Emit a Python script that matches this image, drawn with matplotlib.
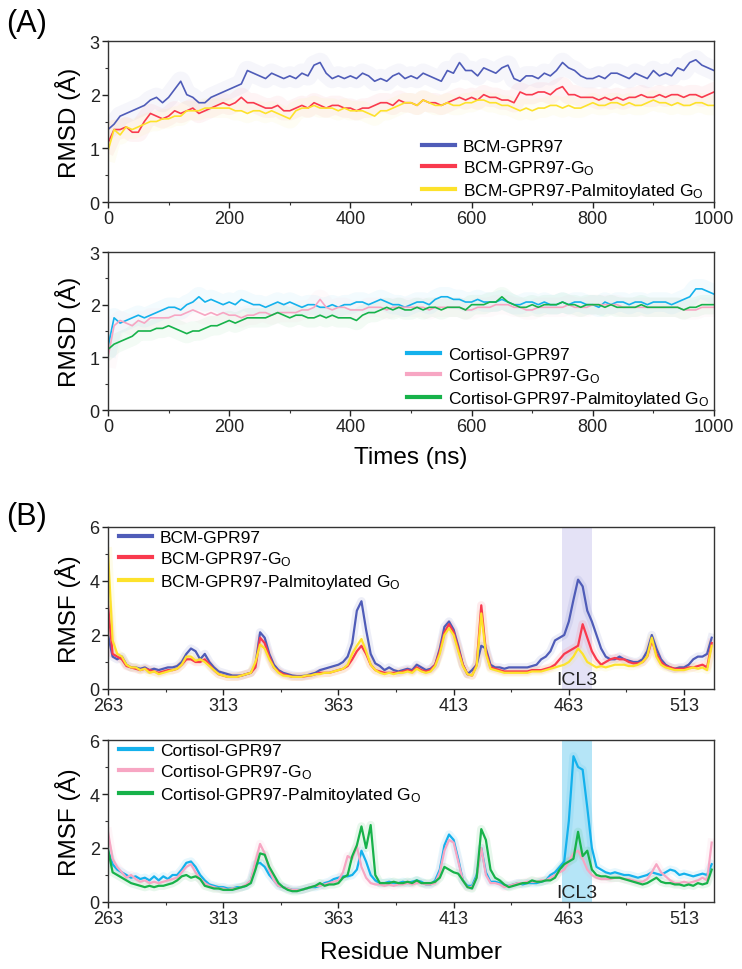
import numpy as np
import matplotlib
matplotlib.use("Agg")
import matplotlib.pyplot as plt
from matplotlib.ticker import MultipleLocator, FixedLocator

plt.rcParams['font.family'] = ['Liberation Sans', 'DejaVu Sans']
plt.rcParams['mathtext.default'] = 'regular'

# ---------------- data ----------------
time_ns = np.arange(0, 1001, 10)

bcm = [1.35, 1.45, 1.6, 1.65, 1.7, 1.75, 1.8, 1.9, 1.95, 1.85,
       1.95, 2.1, 2.25, 2.0, 1.95, 1.85, 1.85, 1.95, 2.0, 2.05,
       2.1, 2.15, 2.2, 2.45, 2.4, 2.35, 2.3, 2.4, 2.35, 2.3,
       2.35, 2.3, 2.4, 2.35, 2.55, 2.6, 2.4, 2.3, 2.35, 2.3,
       2.35, 2.3, 2.4, 2.35, 2.25, 2.3, 2.25, 2.35, 2.4, 2.3,
       2.35, 2.3, 2.4, 2.35, 2.3, 2.25, 2.45, 2.4, 2.6, 2.45,
       2.45, 2.35, 2.5, 2.45, 2.4, 2.5, 2.55, 2.3, 2.25, 2.35,
       2.35, 2.3, 2.4, 2.35, 2.45, 2.6, 2.5, 2.45, 2.35, 2.3,
       2.3, 2.35, 2.3, 2.4, 2.4, 2.35, 2.3, 2.4, 2.35, 2.3,
       2.45, 2.35, 2.4, 2.35, 2.5, 2.45, 2.6, 2.65, 2.55, 2.5,
       2.45]
bcm_go = [1.1, 1.35, 1.35, 1.4, 1.3, 1.3, 1.5, 1.65, 1.6, 1.55,
          1.6, 1.7, 1.65, 1.7, 1.75, 1.65, 1.7, 1.75, 1.8, 1.85,
          1.8, 1.85, 1.95, 1.85, 1.85, 1.8, 1.75, 1.75, 1.8, 1.7,
          1.7, 1.75, 1.8, 1.75, 1.85, 1.8, 1.75, 1.8, 1.8, 1.75,
          1.75, 1.7, 1.75, 1.75, 1.8, 1.85, 1.85, 1.8, 1.9, 1.85,
          1.85, 1.8, 1.9, 1.85, 1.85, 1.8, 1.85, 1.9, 1.95, 1.9,
          1.95, 1.9, 2.0, 1.95, 1.95, 1.9, 1.9, 1.85, 2.05, 2.0,
          2.0, 2.05, 2.05, 2.0, 2.1, 2.15, 2.0, 2.0, 1.95, 1.95,
          1.95, 1.9, 1.95, 1.9, 1.95, 1.9, 1.95, 1.95, 2.0, 1.95,
          1.95, 2.0, 1.95, 2.0, 2.0, 1.95, 2.0, 2.0, 1.95, 2.0,
          2.05]
bcm_palm = [0.95, 1.35, 1.25, 1.4, 1.35, 1.4, 1.45, 1.5, 1.5, 1.55,
            1.55, 1.6, 1.6, 1.7, 1.7, 1.7, 1.75, 1.75, 1.75, 1.75,
            1.75, 1.7, 1.7, 1.65, 1.7, 1.7, 1.65, 1.7, 1.65, 1.6,
            1.55, 1.7, 1.75, 1.75, 1.8, 1.75, 1.75, 1.75, 1.7, 1.75,
            1.7, 1.7, 1.7, 1.65, 1.6, 1.7, 1.7, 1.75, 1.8, 1.85,
            1.85, 1.8, 1.9, 1.85, 1.8, 1.8, 1.85, 1.8, 1.8, 1.85,
            1.85, 1.9, 1.9, 1.85, 1.85, 1.8, 1.8, 1.75, 1.7, 1.75,
            1.7, 1.75, 1.75, 1.8, 1.8, 1.75, 1.8, 1.75, 1.75, 1.8,
            1.85, 1.8, 1.8, 1.85, 1.85, 1.8, 1.85, 1.8, 1.8, 1.85,
            1.9, 1.85, 1.85, 1.8, 1.85, 1.8, 1.8, 1.85, 1.85, 1.8,
            1.8]

cort = [1.2, 1.75, 1.65, 1.7, 1.75, 1.8, 1.75, 1.8, 1.85, 1.9,
        1.95, 1.95, 1.9, 2.0, 2.05, 2.15, 2.05, 2.1, 2.05, 2.0,
        2.05, 2.0, 2.1, 2.05, 2.0, 2.0, 1.95, 2.0, 2.05, 2.0,
        2.05, 2.0, 1.95, 2.0, 2.0, 1.95, 1.95, 2.0, 1.95, 2.0,
        2.0, 2.05, 2.05, 2.0, 2.05, 2.1, 2.05, 2.0, 2.0, 1.95,
        2.0, 2.05, 2.05, 2.0, 2.1, 2.15, 2.15, 2.1, 2.1, 2.05,
        2.05, 2.1, 2.05, 2.05, 2.05, 2.1, 2.05, 2.0, 2.0, 2.05,
        2.05, 2.0, 2.05, 2.0, 2.0, 2.05, 2.0, 2.05, 2.05, 2.0,
        2.0, 1.95, 2.05, 2.0, 2.05, 2.05, 2.0, 2.05, 2.05, 2.0,
        2.05, 2.05, 2.05, 2.0, 2.05, 2.1, 2.15, 2.3, 2.3, 2.25,
        2.2]
cort_go = [1.0, 1.6, 1.7, 1.65, 1.6, 1.7, 1.65, 1.75, 1.75, 1.75,
           1.75, 1.8, 1.8, 1.85, 1.9, 1.85, 1.8, 1.85, 1.8, 1.85,
           1.8, 1.8, 1.75, 1.8, 1.8, 1.85, 1.85, 1.8, 1.85, 1.85,
           1.85, 1.85, 1.9, 1.9, 1.95, 2.1, 1.95, 1.9, 1.95, 1.95,
           1.9, 1.9, 1.9, 1.95, 1.95, 1.95, 1.9, 1.95, 1.95, 1.95,
           1.95, 1.95, 1.95, 1.9, 1.95, 1.95, 1.95, 1.95, 1.95, 1.9,
           1.9, 1.95, 1.95, 1.95, 2.0, 2.0, 2.0, 1.95, 1.95, 1.9,
           1.9, 1.95, 1.95, 1.95, 1.95, 1.95, 2.0, 1.95, 1.95, 1.95,
           2.0, 2.0, 2.0, 2.0, 2.0, 1.95, 1.95, 1.95, 1.95, 1.95,
           1.95, 1.95, 1.95, 1.95, 1.95, 1.9, 1.9, 1.9, 1.95, 1.95,
           1.95]
cort_palm = [1.15, 1.25, 1.3, 1.35, 1.4, 1.5, 1.5, 1.5, 1.55, 1.55,
             1.6, 1.55, 1.5, 1.45, 1.5, 1.5, 1.55, 1.6, 1.6, 1.65,
             1.7, 1.65, 1.7, 1.75, 1.75, 1.75, 1.75, 1.8, 1.85, 1.8,
             1.75, 1.8, 1.8, 1.75, 1.75, 1.8, 1.75, 1.8, 1.75, 1.75,
             1.75, 1.7, 1.8, 1.85, 1.85, 1.9, 1.95, 1.9, 1.95, 1.9,
             1.9, 1.95, 1.9, 1.95, 1.95, 1.9, 1.95, 1.95, 1.95, 1.9,
             2.0, 2.0, 2.0, 2.05, 2.05, 2.15, 2.05, 2.0, 1.95, 1.95,
             2.0, 1.95, 2.0, 2.0, 2.0, 2.05, 2.0, 2.0, 1.95, 2.0,
             2.0, 2.0, 1.95, 2.0, 1.95, 1.95, 1.95, 1.95, 2.0, 1.95,
             1.95, 1.95, 1.95, 1.95, 1.95, 1.9, 1.95, 1.95, 2.0, 2.0,
             2.0]

residue = np.arange(263, 526, 2)

rmsf_bcm = [2.0, 1.2, 1.1, 1.2, 0.9, 0.8, 0.8, 0.75, 0.8, 0.7,
            0.75, 0.7, 0.75, 0.8, 0.8, 0.85, 1.0, 1.3, 1.5, 1.4,
            1.1, 1.3, 1.0, 0.8, 0.65, 0.6, 0.55, 0.5, 0.5, 0.5,
            0.55, 0.6, 0.9, 2.1, 1.9, 1.3, 0.9, 0.7, 0.6, 0.55,
            0.5, 0.48, 0.48, 0.5, 0.55, 0.6, 0.7, 0.75, 0.8, 0.85,
            0.9, 1.0, 1.2, 1.7, 2.9, 3.25, 2.2, 1.3, 0.95, 0.85,
            0.7, 0.8, 0.7, 0.65, 0.7, 0.75, 0.7, 0.9, 0.8, 0.7,
            0.75, 0.9, 1.5, 2.3, 2.5, 2.2, 1.6, 0.9, 0.55, 0.7,
            0.9, 1.6, 1.5, 0.9, 0.8, 0.8, 0.75, 0.8, 0.8, 0.8,
            0.8, 0.8, 0.85, 0.9, 1.1, 1.2, 1.4, 1.8, 1.9, 2.0,
            2.5, 3.3, 4.05, 3.8, 2.9, 2.5, 2.0, 1.5, 1.2, 1.1,
            1.1, 1.2, 1.1, 1.05, 1.0, 1.0, 1.1, 1.4, 2.0, 1.5,
            1.1, 0.9, 0.8, 0.75, 0.8, 0.8, 0.9, 1.1, 1.2, 1.2,
            1.3, 1.9]
rmsf_bcm_go = [3.1, 1.3, 1.2, 1.1, 0.85, 0.8, 0.75, 0.7, 0.75, 0.7,
               0.65, 0.6, 0.65, 0.7, 0.7, 0.75, 0.9, 1.1, 1.1, 1.0,
               1.0, 1.1, 0.9, 0.7, 0.55, 0.5, 0.45, 0.45, 0.45, 0.5,
               0.55, 0.6, 0.8, 1.9, 1.7, 1.2, 0.8, 0.65, 0.55, 0.5,
               0.45, 0.45, 0.45, 0.48, 0.5, 0.55, 0.6, 0.6, 0.6, 0.65,
               0.7, 0.75, 0.85, 1.1, 1.4, 1.6, 1.3, 0.9, 0.7, 0.65,
               0.6, 0.6, 0.6, 0.6, 0.65, 0.7, 0.65, 0.8, 0.7, 0.65,
               0.7, 0.9, 1.4, 2.1, 2.4, 2.1, 1.5, 0.9, 0.55, 0.5,
               0.9, 3.1, 1.4, 0.8, 0.75, 0.7, 0.65, 0.65, 0.65, 0.65,
               0.65, 0.65, 0.7, 0.7, 0.7, 0.75, 0.8, 0.9, 1.1, 1.3,
               1.4, 1.5, 1.6, 2.4, 1.9, 1.4, 1.1, 0.9, 1.0, 1.1,
               1.15, 1.1, 1.1, 1.0, 0.95, 0.95, 1.0, 1.2, 1.8, 1.3,
               1.0, 0.85, 0.8, 0.75, 0.75, 0.75, 0.8, 0.8, 0.85, 0.9,
               0.8, 1.7]
rmsf_bcm_palm = [5.1, 1.8, 1.3, 1.2, 0.9, 0.8, 0.8, 0.7, 0.75, 0.6,
                 0.65, 0.55, 0.6, 0.65, 0.7, 0.75, 0.9, 1.2, 1.2, 1.05,
                 1.1, 1.0, 0.85, 0.7, 0.55, 0.5, 0.45, 0.45, 0.45, 0.5,
                 0.55, 0.6, 1.0, 1.65, 1.5, 1.1, 0.8, 0.6, 0.5, 0.48,
                 0.45, 0.45, 0.45, 0.5, 0.5, 0.55, 0.55, 0.6, 0.6, 0.65,
                 0.7, 0.75, 0.9, 1.3, 1.6, 1.85, 1.4, 0.9, 0.7, 0.6,
                 0.55, 0.6, 0.55, 0.6, 0.6, 0.65, 0.6, 0.75, 0.65, 0.6,
                 0.65, 0.85, 1.3, 2.0, 2.25, 2.0, 1.4, 0.85, 0.55, 0.5,
                 0.85, 2.8, 1.3, 0.75, 0.7, 0.65, 0.6, 0.6, 0.6, 0.6,
                 0.6, 0.6, 0.65, 0.65, 0.65, 0.7, 0.75, 0.8, 0.85, 0.9,
                 1.0, 1.2, 1.5, 1.3, 1.0, 0.9, 0.8, 0.85, 0.8, 0.85,
                 0.9, 0.9, 0.9, 0.85, 0.85, 0.9, 1.0, 1.2, 1.9, 1.2,
                 0.9, 0.8, 0.75, 0.7, 0.7, 0.7, 0.75, 0.8, 0.75, 0.8,
                 0.7, 1.6]

rmsf_cort = [1.9, 1.4, 1.2, 1.1, 1.0, 0.9, 0.95, 0.85, 0.9, 0.8,
             0.95, 0.8, 0.95, 0.85, 1.0, 1.0, 1.2, 1.45, 1.5, 1.3,
             1.0, 0.8, 0.65, 0.6, 0.55, 0.55, 0.5, 0.5, 0.55, 0.55,
             0.6, 0.8, 1.4, 1.45, 1.3, 1.0, 0.8, 0.6, 0.55, 0.5,
             0.45, 0.45, 0.45, 0.5, 0.55, 0.55, 0.6, 0.7, 0.75, 0.85,
             0.9, 0.95, 0.95, 1.0, 1.2, 1.9, 1.5, 1.0, 0.8, 0.7,
             0.7, 0.75, 0.7, 0.7, 0.75, 0.7, 0.75, 0.8, 0.75, 0.65,
             0.65, 0.8, 1.2, 2.1, 2.5, 2.3, 1.6, 0.8, 0.6, 0.6,
             1.0, 2.0, 1.1, 0.75, 0.75, 0.7, 0.6, 0.6, 0.65, 0.7,
             0.65, 0.7, 0.7, 0.7, 0.75, 0.8, 1.0, 1.1, 1.3, 1.5,
             3.0, 5.4, 5.0, 4.9, 3.5, 2.0, 1.3, 1.2, 1.1, 1.05,
             1.1, 1.05, 1.0, 1.0, 0.95, 0.9, 0.95, 1.0, 1.1, 1.05,
             1.0, 1.1, 1.2, 1.15, 1.0, 1.05, 1.0, 0.95, 1.0, 1.05,
             1.0, 1.4]
rmsf_cort_go = [2.6, 1.6, 1.3, 1.1, 0.9, 1.0, 0.85, 0.75, 0.8, 0.7,
                0.75, 0.7, 0.75, 0.8, 0.85, 0.9, 1.1, 1.3, 1.4, 1.1,
                0.85, 0.7, 0.6, 0.55, 0.5, 0.5, 0.45, 0.5, 0.5, 0.55,
                0.65, 0.8, 1.5, 2.15, 1.8, 1.2, 0.8, 0.6, 0.55, 0.5,
                0.45, 0.45, 0.45, 0.5, 0.55, 0.6, 0.6, 0.65, 0.7, 0.75,
                0.8, 1.1, 1.7, 1.6, 2.05, 1.3, 0.9, 0.7, 0.65, 0.65,
                0.6, 0.65, 0.6, 0.65, 0.65, 0.7, 0.65, 0.7, 0.7, 0.65,
                0.65, 0.7, 1.1, 1.9, 2.3, 2.2, 1.5, 0.8, 0.55, 0.55,
                0.9, 2.0, 1.0, 0.7, 0.7, 0.65, 0.55, 0.6, 0.65, 0.7,
                0.7, 0.75, 0.75, 0.75, 0.8, 0.8, 0.9, 1.0, 1.1, 1.2,
                1.5, 1.8, 1.9, 1.6, 1.2, 1.0, 0.9, 0.85, 0.85, 0.85,
                0.9, 0.9, 0.85, 0.85, 0.8, 0.75, 0.75, 0.85, 1.1, 1.4,
                1.1, 0.95, 0.8, 0.7, 0.7, 0.75, 0.7, 0.75, 0.8, 0.9,
                0.8, 2.2]
rmsf_cort_palm = [1.95, 1.1, 1.0, 0.9, 0.8, 0.7, 0.65, 0.6, 0.55, 0.6,
                  0.55, 0.6, 0.6, 0.65, 0.7, 0.8, 0.95, 1.0, 0.9, 0.95,
                  0.85, 0.6, 0.55, 0.5, 0.5, 0.45, 0.45, 0.45, 0.5, 0.55,
                  0.6, 0.7, 1.2, 1.8, 1.75, 1.3, 1.0, 0.7, 0.55, 0.45,
                  0.4, 0.4, 0.45, 0.5, 0.55, 0.6, 0.7, 0.6, 0.65, 0.65,
                  0.7, 0.9, 1.0, 1.7, 2.1, 2.8, 2.0, 2.85, 1.0, 0.7,
                  0.7, 0.7, 0.75, 0.7, 0.7, 0.75, 0.7, 0.8, 0.7, 0.7,
                  0.7, 0.75, 0.9, 1.3, 1.2, 1.1, 1.05, 0.8, 0.55, 0.5,
                  0.9, 2.7, 2.3, 1.2, 0.9, 0.8, 0.65, 0.55, 0.6, 0.65,
                  0.7, 0.7, 0.8, 0.75, 0.75, 0.8, 0.8, 0.9, 1.2, 1.4,
                  1.5, 1.6, 2.6, 1.7, 1.9, 1.2, 1.0, 0.95, 0.95, 0.9,
                  0.9, 0.9, 0.85, 0.8, 0.75, 0.7, 0.65, 0.7, 0.8, 0.9,
                  0.75, 0.7, 0.7, 0.65, 0.65, 0.6, 0.65, 0.6, 0.7, 0.65,
                  0.7, 1.2]

icl3 = (460, 473)

c_bcm, c_bcm_go, c_bcm_palm = '#4f5cb8', '#f93a4e', '#fde22b'
c_cort, c_cort_go, c_cort_palm = '#14b1ec', '#f7a6c3', '#17b24a'

lab_bcm = ['BCM-GPR97', 'BCM-GPR97-G$_O$', 'BCM-GPR97-Palmitoylated G$_O$']
lab_cort = ['Cortisol-GPR97', 'Cortisol-GPR97-G$_O$', 'Cortisol-GPR97-Palmitoylated G$_O$']

# ---------------- figure ----------------
fig = plt.figure(figsize=(7.42, 9.70), dpi=100)
L, W = 108 / 742, 606 / 742
ax1 = fig.add_axes([L, 1 - 203 / 970, W, 161 / 970])
ax2 = fig.add_axes([L, 1 - 411 / 970, W, 158 / 970])
ax3 = fig.add_axes([L, 1 - 690 / 970, W, 162 / 970])
ax4 = fig.add_axes([L, 1 - 903 / 970, W, 162 / 970])


def style(ax):
    for s in ax.spines.values():
        s.set_color('#333333')
        s.set_linewidth(1.0)
    ax.tick_params(which='major', direction='out', length=4, width=1,
                   labelsize=13, colors='#222222', pad=2)
    ax.tick_params(which='minor', direction='out', length=2.5, width=0.8,
                   colors='#333333')


def add_legend(ax, handles, labels, **kw):
    leg = ax.legend(handles, labels, frameon=False, fontsize=12.5,
                    handlelength=1.9, handletextpad=0.46, labelspacing=0.25,
                    borderpad=0, borderaxespad=0, **kw)
    for lh in leg.get_lines():
        lh.set_linewidth(3)


def rmsd_panel(ax, series, colors, labels, leg_x):
    for y, c in zip(series, colors):
        ax.plot(time_ns, y, color=c, lw=14, alpha=0.05, solid_joinstyle='round')
    handles = []
    for y, c in zip(series, colors):
        h, = ax.plot(time_ns, y, color=c, lw=1.2)
        handles.append(h)
    ax.set_xlim(0, 1000)
    ax.set_ylim(0, 3)
    ax.xaxis.set_major_locator(MultipleLocator(200))
    ax.xaxis.set_minor_locator(MultipleLocator(100))
    ax.yaxis.set_major_locator(MultipleLocator(1))
    ax.yaxis.set_minor_locator(MultipleLocator(0.5))
    ax.set_ylabel('RMSD (Å)', fontsize=17.5, labelpad=6)
    style(ax)
    add_legend(ax, handles, labels, loc='lower left', bbox_to_anchor=(leg_x, 0.01))


def rmsf_panel(ax, series, colors, labels, band):
    ax.axvspan(icl3[0], icl3[1], color=band, lw=0, zorder=0)
    for y, c in zip(series, colors):
        ax.plot(residue, y, color=c, lw=6, alpha=0.1, solid_joinstyle='round')
    handles = []
    for y, c in zip(series, colors):
        h, = ax.plot(residue, y, color=c, lw=1.6)
        handles.append(h)
    ax.text(sum(icl3) / 2, 0.05, 'ICL3', ha='center', va='bottom', fontsize=14,
            color='#222222')
    ax.set_xlim(263, 526)
    ax.set_ylim(0, 6)
    ax.xaxis.set_major_locator(FixedLocator([263, 313, 363, 413, 463, 513]))
    ax.xaxis.set_minor_locator(FixedLocator([288, 338, 388, 438, 488]))
    ax.yaxis.set_major_locator(MultipleLocator(2))
    ax.yaxis.set_minor_locator(MultipleLocator(1))
    ax.set_ylabel('RMSF (Å)', fontsize=17.5, labelpad=6)
    style(ax)
    add_legend(ax, handles, labels, loc='upper left', bbox_to_anchor=(0.018, 0.985))


rmsd_panel(ax1, [bcm, bcm_go, bcm_palm], [c_bcm, c_bcm_go, c_bcm_palm], lab_bcm, 0.518)
rmsd_panel(ax2, [cort, cort_go, cort_palm], [c_cort, c_cort_go, c_cort_palm], lab_cort, 0.493)
ax2.set_xlabel('Times (ns)', fontsize=17.5, labelpad=8)

rmsf_panel(ax3, [rmsf_bcm, rmsf_bcm_go, rmsf_bcm_palm],
           [c_bcm, c_bcm_go, c_bcm_palm], lab_bcm, '#e4e2f6')
rmsf_panel(ax4, [rmsf_cort, rmsf_cort_go, rmsf_cort_palm],
           [c_cort, c_cort_go, c_cort_palm], lab_cort, '#b5e5f7')
ax4.set_xlabel('Residue Number', fontsize=17.5, labelpad=10)

fig.text(6 / 742, 1 - 9 / 970, '(A)', fontsize=22, va='top', ha='left')
fig.text(6 / 742, 1 - 502 / 970, '(B)', fontsize=22, va='top', ha='left')

fig.savefig('out.png', dpi=100)
